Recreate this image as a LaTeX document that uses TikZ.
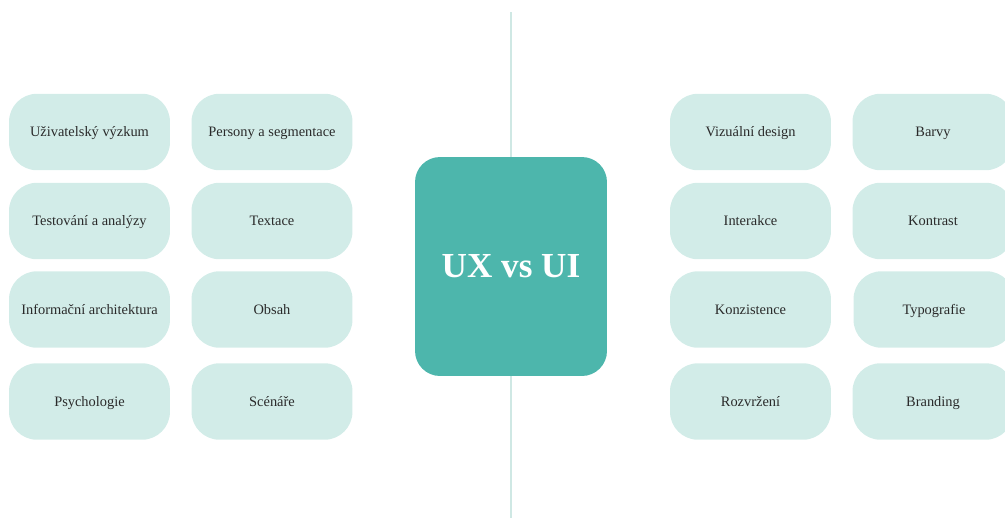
\documentclass[tikz,border=0pt]{standalone}
\usepackage{fontspec}
\setmainfont{Liberation Serif}
\usepackage{tikz}
\usetikzlibrary{positioning}
\definecolor{mteal}{HTML}{4DB6AC}
\definecolor{mmint}{HTML}{D2ECE8}
\definecolor{mline}{HTML}{CFE8E4}
\definecolor{mtext}{HTML}{2A2A2A}
\tikzset{topic/.style = {fill=mmint, rounded corners=0.56cm,
                         minimum width=3.22cm, minimum height=1.53cm,
                         inner sep=0pt, text height=1.6ex, text depth=0.4ex,
                         text=mtext, font=\fontsize{8.2}{10}\selectfont}}
\tikzset{hub/.style = {fill=mteal, rounded corners=0.5cm,
                       minimum width=3.84cm, minimum height=4.38cm,
                       text=white, font=\fontsize{20}{24}\selectfont\bfseries}}

\begin{document}
\begin{tikzpicture}[x=0.02cm, y=-0.02cm]
    \useasboundingbox (0, 0) rectangle (1005, 518);

    \coordinate (linetop) at (511, 12);
    \coordinate (linebot) at (511, 518);
    \draw [mline, line width=1.2pt] (linetop) -- (linebot);

    \node [hub] (center) at (511, 266.5) {UX vs UI};

    % UX side
    \node [topic] (vyzkum) at (89.5, 132) {Uživatelský výzkum};
    \node [topic] (persony) at (272, 132) {Persony a segmentace};
    \node [topic] (testovani) at (89.5, 221) {Testování a analýzy};
    \node [topic] (textace) at (272, 221) {Textace};
    \node [topic] (architektura) at (89.5, 309.5) {Informační architektura};
    \node [topic] (obsah) at (272, 309.5) {Obsah};
    \node [topic] (psychologie) at (89.5, 401.5) {Psychologie};
    \node [topic] (scenare) at (272, 401.5) {Scénáře};

    % UI side
    \node [topic] (vizual) at (750.5, 132) {Vizuální design};
    \node [topic] (barvy) at (933, 132) {Barvy};
    \node [topic] (interakce) at (750.5, 221) {Interakce};
    \node [topic] (kontrast) at (933, 221) {Kontrast};
    \node [topic] (konzistence) at (750.5, 309.5) {Konzistence};
    \node [topic] (typografie) at (934, 309.5) {Typografie};
    \node [topic] (rozvrzeni) at (750.5, 401.5) {Rozvržení};
    \node [topic] (branding) at (933, 401.5) {Branding};
\end{tikzpicture}
\end{document}
